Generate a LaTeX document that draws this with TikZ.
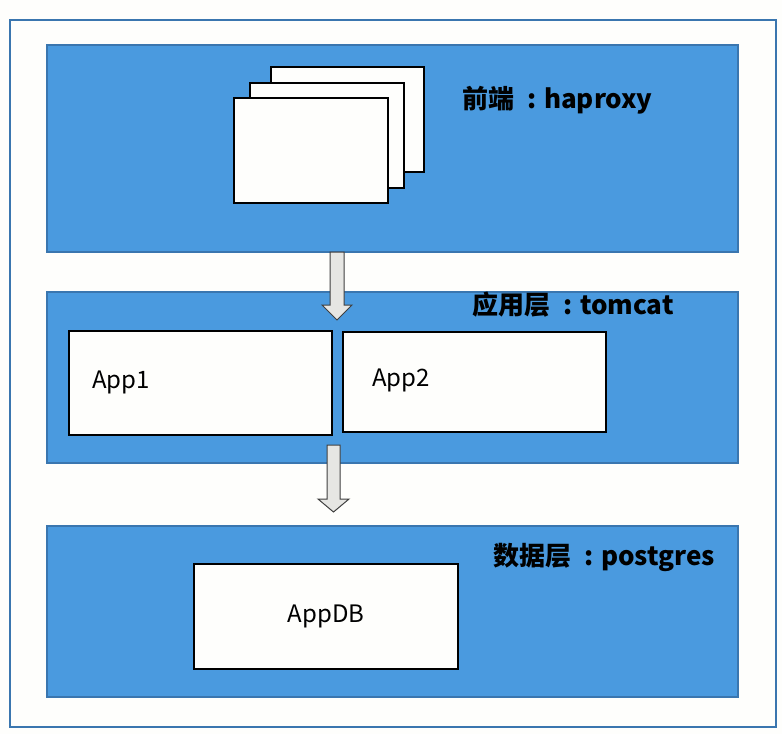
\documentclass[tikz,border=0pt]{standalone}
\usepackage{fontspec}
\newfontfamily\cjk{Noto Sans CJK SC}
\usetikzlibrary{positioning}
\definecolor{layerblue}{RGB}{74,154,223}
\definecolor{layeredge}{RGB}{58,118,175}
\definecolor{arrowgray}{RGB}{230,230,227}
\definecolor{paper}{RGB}{254,254,252}
\newcommand\sep{\hspace{0.5em}:\hspace{0.3em}}
\tikzset{
  layer/.style={draw=layeredge,line width=1.5pt,fill=layerblue,anchor=north west,inner sep=0pt},
  box/.style={draw=black,line width=2pt,fill=paper,anchor=north west,inner sep=0pt},
  layertitle/.style={anchor=west,inner sep=0pt,font=\cjk\bfseries\fontsize{26}{31}\selectfont},
  boxtext/.style={inner sep=0pt,font=\cjk\fontsize{24}{29}\selectfont},
  downarrow/.style={draw=black!75,line width=1pt,fill=arrowgray,line join=miter},
}
\begin{document}
\begin{tikzpicture}[x=1pt,y=-1pt]
\useasboundingbox[fill=paper] (0,0) rectangle (782,734);
\draw[layeredge,line width=2pt] (10,20) rectangle (776,727);
% three layers
\node[layer,minimum width=691pt,minimum height=207pt] (front) at (46,44) {};
\node[layer,minimum width=691pt,minimum height=171pt] (app) at (46,291) {};
\node[layer,minimum width=691pt,minimum height=171pt] (data) at (46,525) {};
% haproxy stack
\node[box,minimum width=153pt,minimum height=105pt] (proxyc) at (270,66) {};
\node[box,minimum width=154pt,minimum height=105pt] (proxyb) at (249,82) {};
\node[box,minimum width=154pt,minimum height=105pt] (proxya) at (233,97) {};
\node[layertitle] (fronttitle) at (462,100) {前端\sep haproxy};
% tomcat
\node[box,minimum width=263pt,minimum height=104pt] (app1) at (68,330) {};
\node[box,minimum width=263pt,minimum height=100pt] (app2) at (342,331) {};
\node[boxtext,anchor=west] at (92,382) {App1};
\node[boxtext,anchor=west] at (372,380) {App2};
\node[layertitle] (apptitle) at (472,305) {应用层\sep tomcat};
% postgres
\node[box,minimum width=264pt,minimum height=105pt] (appdb) at (193,563) {};
\node[boxtext] at (appdb.center) {AppDB};
\node[layertitle] (datatitle) at (493,557) {数据层\sep postgres};
% arrows
\draw[downarrow] (330,252) -- (330,305) -- (322,305) -- (337,320) -- (352,305) -- (344,305) -- (344,252) -- cycle;
\draw[downarrow] (327,445) -- (327,499) -- (318,499) -- (333.5,512) -- (349,499) -- (340,499) -- (340,445) -- cycle;
\end{tikzpicture}
\end{document}
